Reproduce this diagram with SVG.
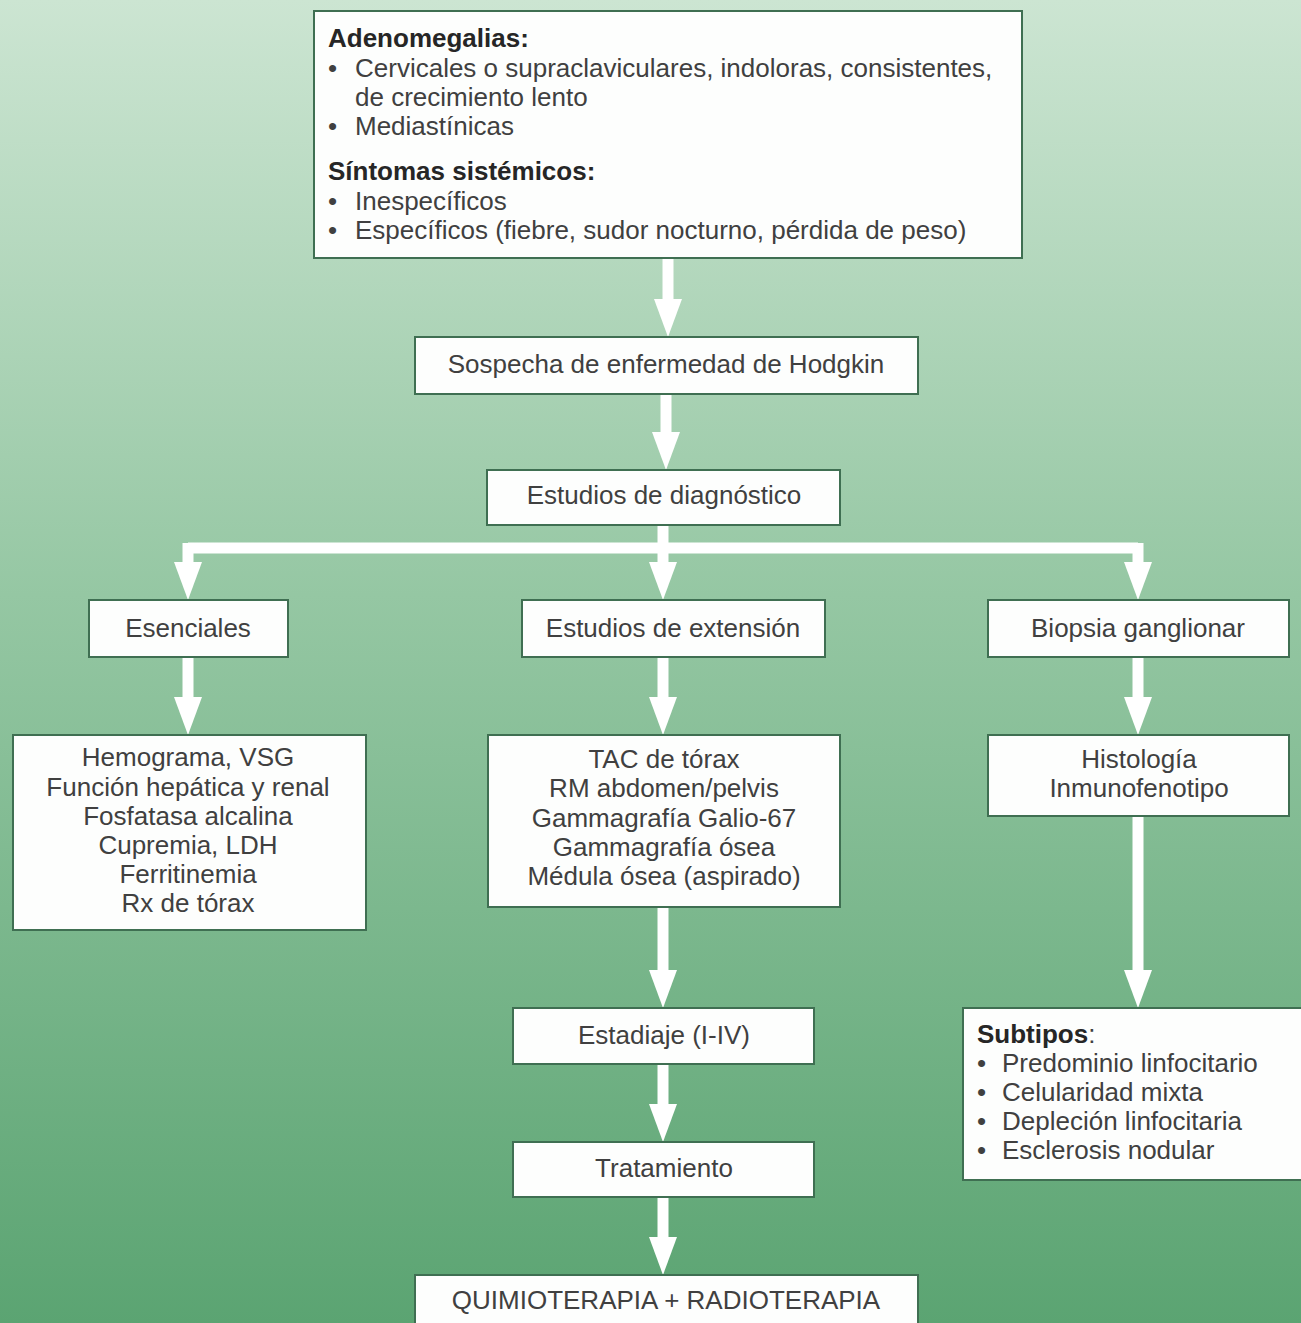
<svg xmlns="http://www.w3.org/2000/svg" width="1301" height="1323" viewBox="0 0 1301 1323">
<defs>
<linearGradient id="bg" x1="0" y1="0" x2="0" y2="1">
<stop offset="0" stop-color="#cce5d2"/>
<stop offset="0.45" stop-color="#95c7a3"/>
<stop offset="1" stop-color="#5ba472"/>
</linearGradient>
<marker id="ah" viewBox="0 0 38 28" markerWidth="38" markerHeight="28" markerUnits="userSpaceOnUse" refX="0" refY="14" orient="auto">
<path d="M0,0 L38,14 L0,28 Z" fill="#ffffff"/>
</marker>
</defs>
<style>
.box{fill:#fdfefd;stroke:#3f6f52;stroke-width:2}
.t{font-family:"Liberation Sans",Arial,sans-serif;font-size:26px;fill:#404040}
.c{text-anchor:middle}
.b{font-weight:bold;fill:#262626}
.ar{stroke:#ffffff;stroke-width:11;fill:none}
.arh{stroke:#ffffff;stroke-width:11;fill:none;marker-end:url(#ah)}
</style>
<rect x="0" y="0" width="1301" height="1323" fill="url(#bg)"/>

<g id="connectors">
<line class="arh" x1="668" y1="258" x2="668" y2="299"/>
<line class="arh" x1="666" y1="394" x2="666" y2="432"/>
<line class="arh" x1="663" y1="525" x2="663" y2="562"/>
<path class="ar" d="M188,548 H1138"/>
<line class="arh" x1="188" y1="543" x2="188" y2="562"/>
<line class="arh" x1="1138" y1="543" x2="1138" y2="562"/>
<line class="arh" x1="188" y1="657" x2="188" y2="697"/>
<line class="arh" x1="663" y1="657" x2="663" y2="697"/>
<line class="arh" x1="1138" y1="657" x2="1138" y2="697"/>
<line class="arh" x1="663" y1="907" x2="663" y2="970"/>
<line class="arh" x1="663" y1="1064" x2="663" y2="1104"/>
<line class="arh" x1="663" y1="1197" x2="663" y2="1237"/>
<line class="arh" x1="1138" y1="816" x2="1138" y2="970"/>
</g>

<g id="n-sintomas">
<rect class="box" x="314" y="11" width="708" height="247"/>
<text class="t b" x="328" y="47">Adenomegalias:</text>
<text class="t" x="328" y="77">•</text>
<text class="t" x="355" y="77">Cervicales o supraclaviculares, indoloras, consistentes,</text>
<text class="t" x="355" y="106">de crecimiento lento</text>
<text class="t" x="328" y="135">•</text>
<text class="t" x="355" y="135">Mediastínicas</text>
<text class="t b" x="328" y="180">Síntomas sistémicos:</text>
<text class="t" x="328" y="210">•</text>
<text class="t" x="355" y="210">Inespecíficos</text>
<text class="t" x="328" y="239">•</text>
<text class="t" x="355" y="239">Específicos (fiebre, sudor nocturno, pérdida de peso)</text>
</g>

<g id="n-sospecha">
<rect class="box" x="415" y="337" width="503" height="57"/>
<text class="t c" x="666" y="373">Sospecha de enfermedad de Hodgkin</text>
</g>

<g id="n-diagnostico">
<rect class="box" x="487" y="470" width="353" height="55"/>
<text class="t c" x="664" y="504">Estudios de diagnóstico</text>
</g>

<g id="n-esenciales">
<rect class="box" x="89" y="600" width="199" height="57"/>
<text class="t c" x="188" y="637">Esenciales</text>
</g>

<g id="n-extension">
<rect class="box" x="522" y="600" width="303" height="57"/>
<text class="t c" x="673" y="637">Estudios de extensión</text>
</g>

<g id="n-biopsia">
<rect class="box" x="988" y="600" width="301" height="57"/>
<text class="t c" x="1138" y="637">Biopsia ganglionar</text>
</g>

<g id="n-lab">
<rect class="box" x="13" y="735" width="353" height="195"/>
<text class="t c" x="188" y="766">Hemograma, VSG</text>
<text class="t c" x="188" y="796">Función hepática y renal</text>
<text class="t c" x="188" y="825">Fosfatasa alcalina</text>
<text class="t c" x="188" y="854">Cupremia, LDH</text>
<text class="t c" x="188" y="883">Ferritinemia</text>
<text class="t c" x="188" y="912">Rx de tórax</text>
</g>

<g id="n-imagen">
<rect class="box" x="488" y="735" width="352" height="172"/>
<text class="t c" x="664" y="768">TAC de tórax</text>
<text class="t c" x="664" y="797">RM abdomen/pelvis</text>
<text class="t c" x="664" y="827">Gammagrafía Galio-67</text>
<text class="t c" x="664" y="856">Gammagrafía ósea</text>
<text class="t c" x="664" y="885">Médula ósea (aspirado)</text>
</g>

<g id="n-histologia">
<rect class="box" x="988" y="735" width="301" height="81"/>
<text class="t c" x="1139" y="768">Histología</text>
<text class="t c" x="1139" y="797">Inmunofenotipo</text>
</g>

<g id="n-estadiaje">
<rect class="box" x="513" y="1008" width="301" height="56"/>
<text class="t c" x="664" y="1044">Estadiaje (I-IV)</text>
</g>

<g id="n-tratamiento">
<rect class="box" x="513" y="1142" width="301" height="55"/>
<text class="t c" x="664" y="1177">Tratamiento</text>
</g>

<g id="n-quimio">
<rect class="box" x="415" y="1275" width="503" height="60"/>
<text class="t c" x="666" y="1309">QUIMIOTERAPIA + RADIOTERAPIA</text>
</g>

<g id="n-subtipos">
<rect class="box" x="963" y="1008" width="350" height="172"/>
<text class="t" x="977" y="1043"><tspan class="b">Subtipos</tspan>:</text>
<text class="t" x="977" y="1072">•</text>
<text class="t" x="1002" y="1072">Predominio linfocitario</text>
<text class="t" x="977" y="1101">•</text>
<text class="t" x="1002" y="1101">Celularidad mixta</text>
<text class="t" x="977" y="1130">•</text>
<text class="t" x="1002" y="1130">Depleción linfocitaria</text>
<text class="t" x="977" y="1159">•</text>
<text class="t" x="1002" y="1159">Esclerosis nodular</text>
</g>
</svg>
